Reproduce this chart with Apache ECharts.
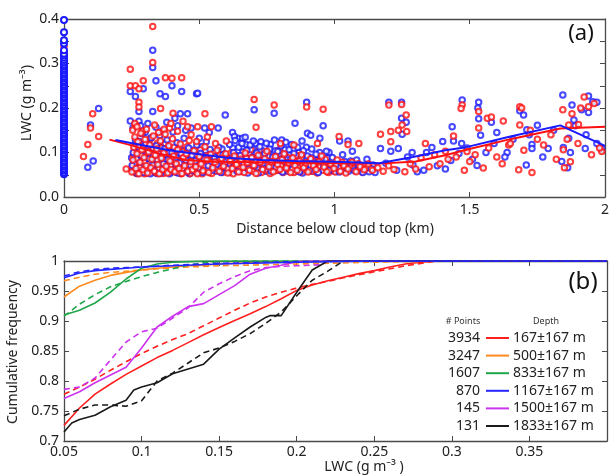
<!DOCTYPE html>
<html><head><meta charset="utf-8">
<script src="https://cdn.jsdelivr.net/npm/echarts@6/dist/echarts.min.js"></script>
<style>html,body{margin:0;padding:0;background:#fff}#c{width:612px;height:475px}</style>
</head><body><div id="c"></div>
<script>
// ---------- Panel (a) data: LWC (g m^-3) vs distance below cloud top (km) ----------
const zeroColBlue = [0.051,0.055,0.06,0.064,0.069,0.073,0.078,0.082,0.087,0.091,0.096,0.1,0.105,0.109,0.114,0.118,0.123,0.127,0.132,0.136,0.141,0.145,0.15,0.154,0.159,0.163,0.168,0.172,0.177,0.181,0.186,0.19,0.195,0.199,0.204,0.208,0.213,0.217,0.222,0.226,0.231,0.235,0.24,0.244,0.249,0.253,0.258,0.262,0.267,0.271,0.276,0.28,0.285,0.289,0.294,0.298,0.303,0.308,0.313,0.318,0.322,0.33,0.345,0.352,0.37,0.398];
const zeroColRed = [0.302,0.313,0.324,0.338];

const redPoints = [
[0.072,0.091],[0.088,0.118],[0.098,0.155],[0.106,0.187],[0.128,0.136],[0.23,0.063],
[0.245,0.287],[0.245,0.25],[0.264,0.25],[0.277,0.243],[0.293,0.261],[0.328,0.383],[0.328,0.302],[0.357,0.199],[0.375,0.268],[0.399,0.267],[0.435,0.268],[0.277,0.213],[0.277,0.202],[0.264,0.162],[0.39,0.155],[0.403,0.188],[0.457,0.158],
[0.521,0.187],[0.703,0.219],[0.777,0.207],[0.71,0.157],[0.494,0.158],[0.545,0.158],[0.6,0.126],[0.8,0.12],[0.85,0.117],[0.897,0.202],[0.958,0.197],[0.937,0.12],
[1.017,0.136],[1.05,0.118],[1.09,0.12],[1.17,0.141],[1.201,0.207],[1.208,0.147],[1.208,0.124],[1.236,0.15],[1.248,0.208],[1.25,0.162],[1.265,0.184],[1.267,0.147],[1.336,0.12],[1.41,0.103],[1.44,0.137],[1.472,0.207],[1.468,0.199],
[1.49,0.102],[1.533,0.192],[1.533,0.155],[1.565,0.177],[1.58,0.18],[1.624,0.171],[1.644,0.117],[1.685,0.203],[1.692,0.2],[1.685,0.162],[1.681,0.061],[1.724,0.15],[1.73,0.055],[1.773,0.117],[1.844,0.196],[1.866,0.162],[1.846,0.106],[1.872,0.079],[1.85,0.066],[1.878,0.187],[1.902,0.163],[1.923,0.225],[1.939,0.203],[1.988,0.102],[1.91,0.2],[1.96,0.21],
[0.254,0.15],[0.262,0.165],[0.27,0.158],[0.29,0.148],[0.305,0.152],[0.335,0.162],[0.35,0.145],[0.37,0.152],[0.395,0.165],[0.42,0.148],[0.44,0.17],[0.47,0.14],[0.49,0.125],[0.53,0.135],[0.56,0.12],
[0.251,0.056],[0.255,0.083],[0.258,0.112],[0.262,0.135],[0.266,0.064],[0.27,0.097],[0.273,0.124],[0.277,0.052],[0.281,0.078],[0.284,0.143],[0.288,0.106],[0.292,0.061],[0.296,0.089],[0.3,0.129],[0.304,0.071],[0.309,0.054],[0.313,0.101],[0.317,0.117],[0.321,0.066],[0.325,0.085],[0.33,0.137],[0.334,0.058],[0.338,0.094],[0.343,0.108],[0.347,0.073],[0.352,0.052],[0.356,0.126],[0.36,0.087],[0.365,0.062],[0.369,0.099],[0.374,0.141],[0.378,0.069],[0.383,0.054],[0.387,0.115],[0.392,0.081],[0.396,0.062],[0.401,0.131],[0.405,0.092],[0.41,0.057],[0.415,0.075],[0.42,0.106],[0.425,0.064],[0.43,0.119],[0.436,0.053],[0.441,0.088],[0.446,0.07],[0.452,0.097],[0.458,0.058],[0.463,0.127],[0.469,0.079],[0.475,0.061],[0.481,0.104],[0.487,0.068],[0.493,0.052],[0.5,0.091],[0.507,0.074],[0.514,0.059],[0.521,0.113],[0.528,0.083],[0.535,0.055],[0.542,0.096],[0.55,0.066],[0.558,0.078],[0.566,0.105],[0.574,0.058],[0.582,0.087],[0.59,0.069],[0.598,0.097],[0.606,0.054],[0.614,0.081],[0.622,0.064],[0.63,0.092],[0.638,0.073],[0.646,0.056],[0.654,0.085],[0.662,0.067],[0.67,0.099],[0.678,0.077],[0.686,0.06],[0.694,0.088],[0.702,0.071],[0.71,0.053],[0.718,0.094],[0.726,0.078],[0.734,0.062],[0.742,0.086],[0.75,0.103],[0.758,0.068],[0.766,0.079],[0.774,0.057],[0.782,0.091],[0.79,0.073],[0.798,0.062],[0.806,0.084],[0.814,0.097],[0.822,0.065],[0.83,0.077],[0.838,0.055],[0.846,0.088],[0.854,0.07],[0.862,0.06],[0.87,0.081],[0.878,0.095],[0.886,0.066],[0.894,0.077],[0.902,0.056],[0.912,0.086],[0.922,0.07],[0.932,0.062],[0.942,0.079],[0.952,0.092],[0.962,0.067],[0.972,0.057],[0.985,0.075],[0.998,0.064],[1.01,0.083],[1.022,0.058],[1.035,0.07],[1.05,0.063],[1.065,0.078],[1.08,0.057],[1.095,0.068],[1.11,0.061],[1.125,0.074],[1.14,0.06],[1.16,0.066],[1.18,0.058],[1.2,0.07],[1.22,0.062],[1.26,0.057],[1.28,0.075],[1.3,0.063],[1.32,0.088],[1.35,0.068],[1.37,0.095],[1.39,0.075],[1.42,0.085],[1.45,0.09],[1.48,0.06],[1.5,0.08],[1.52,0.095],[1.55,0.065],[1.57,0.11],[1.6,0.09],[1.62,0.075],[1.65,0.12],[1.7,0.105],[1.75,0.13],[1.8,0.14],[1.82,0.085],[1.86,0.13],[1.9,0.12],[1.95,0.095],[1.98,0.11]
];
const redBandExtra = [
[0.253,0.068],[0.257,0.095],[0.261,0.074],[0.265,0.118],[0.268,0.053],[0.272,0.086],[0.275,0.066],[0.279,0.103],[0.283,0.058],[0.286,0.092],[0.29,0.072],[0.294,0.115],[0.298,0.052],[0.302,0.081],[0.306,0.099],[0.311,0.063],[0.315,0.077],[0.319,0.131],[0.323,0.055],[0.327,0.11],[0.332,0.069],[0.336,0.082],[0.34,0.055],[0.345,0.121],[0.349,0.091],[0.354,0.064],[0.358,0.075],[0.362,0.11],[0.367,0.053],[0.371,0.082],[0.376,0.095],[0.38,0.06],[0.385,0.072],[0.389,0.101],[0.394,0.055],[0.398,0.085],[0.403,0.067],[0.407,0.112],[0.412,0.082],[0.417,0.058],[0.422,0.093],[0.427,0.071],[0.432,0.052],[0.438,0.102],[0.443,0.062],[0.449,0.08],[0.455,0.113],[0.46,0.067],[0.466,0.053],[0.472,0.09],[0.478,0.074],[0.484,0.058],[0.49,0.083],[0.497,0.064],[0.504,0.106],[0.511,0.052],[0.518,0.07],[0.525,0.092],[0.532,0.062],[0.539,0.078],[0.546,0.053],[0.554,0.088],[0.562,0.064],[0.57,0.076],[0.578,0.095],[0.586,0.055],[0.594,0.072],[0.602,0.085],[0.61,0.061],[0.618,0.099],[0.626,0.052],[0.634,0.078],[0.642,0.09],[0.65,0.063],[0.658,0.074],[0.666,0.055],[0.674,0.087],[0.682,0.066],[0.69,0.106],[0.698,0.058],[0.706,0.082],[0.714,0.066],[0.722,0.105],[0.73,0.055],[0.738,0.072],[0.746,0.061],[0.754,0.092],[0.762,0.053],[0.77,0.068],[0.778,0.083],[0.786,0.06],[0.794,0.104],[0.802,0.071],[0.81,0.055],[0.818,0.078],[0.826,0.089],[0.834,0.063],[0.842,0.072],[0.85,0.055],[0.858,0.094],[0.866,0.069],[0.874,0.056],[0.882,0.073],[0.89,0.086],[0.898,0.062],[0.906,0.07],[0.916,0.058],[0.926,0.081],[0.936,0.054],[0.946,0.068],[0.956,0.06],[0.966,0.085],[0.978,0.055],[0.99,0.07],[1.004,0.056],[1.016,0.066],[1.028,0.078],[1.042,0.054],[1.058,0.068],[1.072,0.063],[1.088,0.075],[1.102,0.056],[1.118,0.066]
];

const bluePoints = [
[0.088,0.067],[0.098,0.162],[0.108,0.081],[0.128,0.199],[0.245,0.237],[0.264,0.226],[0.293,0.243],[0.328,0.33],[0.328,0.291],[0.34,0.261],[0.399,0.25],[0.435,0.237],[0.355,0.232],[0.375,0.226],[0.49,0.232],[0.277,0.192],[0.328,0.192],[0.245,0.171],[0.277,0.17],[0.31,0.165],[0.365,0.149],[0.41,0.177],[0.43,0.187],[0.457,0.187],[0.47,0.155],
[0.494,0.233],[0.703,0.196],[0.777,0.188],[0.596,0.184],[0.897,0.213],[0.854,0.166],[0.958,0.16],[0.52,0.155],[0.57,0.155],[0.537,0.145],[0.5,0.132],[0.623,0.145],[0.63,0.136],[0.66,0.132],[0.728,0.124],[0.9,0.143],[0.912,0.139],[0.946,0.132],[0.88,0.126],
[1.019,0.126],[1.05,0.126],[1.066,0.103],[0.98,0.1],[1.17,0.109],[1.201,0.213],[1.208,0.103],[1.236,0.109],[1.248,0.213],[1.248,0.177],[1.265,0.168],[1.25,0.141],[1.287,0.1],[1.306,0.057],[1.36,0.111],[1.41,0.063],[1.435,0.158],[1.44,0.126],[1.472,0.218],
[1.527,0.071],[1.533,0.213],[1.533,0.176],[1.54,0.139],[1.58,0.168],[1.638,0.1],[1.685,0.194],[1.699,0.184],[1.711,0.151],[1.709,0.072],[1.73,0.118],[1.73,0.109],[1.75,0.161],[1.79,0.109],[1.844,0.229],[1.846,0.111],[1.862,0.066],[1.866,0.132],[1.872,0.1],[1.878,0.207],[1.885,0.173],[1.914,0.196],[1.927,0.109],[1.939,0.227],[1.939,0.19],[1.955,0.214],[1.97,0.213],[1.988,0.109],[1.53,0.2],[1.6,0.145],[1.47,0.12],
[0.255,0.155],[0.283,0.16],[0.3,0.145],[0.34,0.157],[0.38,0.168],[0.42,0.16],[0.45,0.15],
[0.252,0.071],[0.256,0.1],[0.26,0.058],[0.264,0.128],[0.268,0.086],[0.272,0.053],[0.276,0.113],[0.28,0.067],[0.285,0.094],[0.289,0.142],[0.293,0.055],[0.297,0.079],[0.302,0.121],[0.306,0.063],[0.31,0.104],[0.315,0.086],[0.319,0.052],[0.323,0.133],[0.328,0.072],[0.332,0.096],[0.336,0.059],[0.341,0.115],[0.345,0.083],[0.35,0.065],[0.354,0.138],[0.358,0.054],[0.363,0.091],[0.367,0.075],[0.372,0.108],[0.376,0.06],[0.381,0.128],[0.385,0.084],[0.39,0.052],[0.394,0.07],[0.399,0.1],[0.403,0.146],[0.408,0.061],[0.413,0.089],[0.418,0.122],[0.423,0.054],[0.428,0.077],[0.433,0.098],[0.439,0.064],[0.444,0.132],[0.45,0.083],[0.456,0.056],[0.461,0.11],[0.467,0.072],[0.473,0.094],[0.479,0.059],[0.485,0.081],[0.491,0.117],[0.498,0.066],[0.505,0.098],[0.512,0.055],[0.519,0.085],[0.526,0.124],[0.533,0.07],[0.54,0.107],[0.548,0.06],[0.556,0.09],[0.564,0.073],[0.572,0.112],[0.58,0.055],[0.588,0.095],[0.596,0.078],[0.604,0.064],[0.612,0.118],[0.62,0.085],[0.627,0.1],[0.633,0.127],[0.64,0.058],[0.646,0.112],[0.652,0.093],[0.658,0.12],[0.664,0.074],[0.67,0.134],[0.676,0.105],[0.682,0.063],[0.688,0.117],[0.694,0.089],[0.7,0.126],[0.706,0.07],[0.712,0.099],[0.718,0.054],[0.724,0.113],[0.73,0.082],[0.736,0.064],[0.742,0.097],[0.748,0.121],[0.754,0.073],[0.76,0.108],[0.766,0.058],[0.772,0.09],[0.778,0.128],[0.784,0.067],[0.79,0.102],[0.796,0.082],[0.802,0.115],[0.808,0.056],[0.814,0.094],[0.82,0.123],[0.826,0.071],[0.832,0.106],[0.838,0.085],[0.844,0.063],[0.85,0.098],[0.857,0.076],[0.864,0.112],[0.871,0.057],[0.878,0.088],[0.885,0.104],[0.892,0.069],[0.9,0.092],[0.908,0.06],[0.916,0.108],[0.924,0.078],[0.932,0.096],[0.94,0.055],[0.95,0.085],[0.96,0.07],[0.97,0.103],[0.98,0.06],[0.992,0.089],[1.005,0.072],[1.018,0.056],[1.03,0.095],[1.045,0.066],[1.06,0.081],[1.075,0.059],[1.09,0.072],[1.105,0.055],[1.12,0.085],[1.135,0.064],[1.15,0.055],[1.19,0.076],[1.23,0.06],[1.27,0.09],[1.29,0.072],[1.33,0.06],[1.34,0.1],[1.38,0.07],[1.4,0.125],[1.43,0.082],[1.46,0.098],[1.49,0.11],[1.51,0.085],[1.56,0.1],[1.59,0.12],[1.63,0.09],[1.66,0.13],[1.72,0.14],[1.77,0.09],[1.81,0.15],[1.84,0.08],[1.89,0.16],[1.93,0.14],[1.97,0.12]
];
const blueBandExtra = [
[0.25,0.088],[0.254,0.062],[0.258,0.079],[0.262,0.108],[0.266,0.056],[0.27,0.071],[0.274,0.098],[0.278,0.125],[0.282,0.083],[0.287,0.06],[0.291,0.106],[0.295,0.069],[0.299,0.092],[0.304,0.054],[0.308,0.083],[0.313,0.12],[0.317,0.068],[0.321,0.097],[0.326,0.058],[0.33,0.085],[0.334,0.112],[0.339,0.074],[0.343,0.053],[0.348,0.098],[0.352,0.078],[0.356,0.112],[0.361,0.066],[0.365,0.085],[0.37,0.056],[0.374,0.12],[0.379,0.078],[0.383,0.095],[0.388,0.065],[0.392,0.11],[0.397,0.058],[0.401,0.082],[0.406,0.098],[0.411,0.07],[0.416,0.055],[0.421,0.084],[0.426,0.112],[0.431,0.062],[0.436,0.088],[0.442,0.072],[0.447,0.105],[0.453,0.062],[0.459,0.094],[0.464,0.052],[0.47,0.08],[0.476,0.105],[0.482,0.066],[0.488,0.093],[0.495,0.055],[0.502,0.078],[0.509,0.113],[0.516,0.067],[0.523,0.093],[0.53,0.058],[0.537,0.083],[0.544,0.07],[0.552,0.1],[0.56,0.058],[0.568,0.086],[0.576,0.068],[0.584,0.108],[0.592,0.062],[0.6,0.09],[0.608,0.073],[0.616,0.055],[0.624,0.11],[0.63,0.068],[0.636,0.093],[0.643,0.132],[0.649,0.077],[0.655,0.058],[0.661,0.101],[0.667,0.085],[0.673,0.118],[0.679,0.054],[0.685,0.097],[0.691,0.072],[0.697,0.108],[0.703,0.087],[0.709,0.12],[0.715,0.076],[0.721,0.06],[0.727,0.093],[0.733,0.104],[0.739,0.075],[0.745,0.058],[0.751,0.085],[0.757,0.097],[0.763,0.118],[0.769,0.074],[0.775,0.062],[0.781,0.104],[0.787,0.084],[0.793,0.06],[0.799,0.097],[0.805,0.128],[0.811,0.072],[0.817,0.107],[0.823,0.086],[0.829,0.058],[0.835,0.095],[0.841,0.118],[0.847,0.074],[0.854,0.058],[0.861,0.09],[0.868,0.1],[0.875,0.068],[0.882,0.054],[0.889,0.082],[0.896,0.112],[0.904,0.074],[0.912,0.088],[0.92,0.058],[0.928,0.068],[0.936,0.082],[0.945,0.1],[0.955,0.063],[0.965,0.078],[0.975,0.088],[0.986,0.07],[0.998,0.058],[1.012,0.074],[1.025,0.062],[1.038,0.08],[1.052,0.058],[1.068,0.068],[1.082,0.083],[1.098,0.062],[1.112,0.07],[1.128,0.057],[1.142,0.072]
];

const redFit  = [[0.168,0.129],[0.25,0.116],[0.35,0.098],[0.45,0.083],[0.55,0.079],[0.7,0.078],[0.85,0.077],[1.0,0.076],[1.17,0.075],[1.3,0.08],[1.41,0.094],[1.48,0.105],[1.65,0.13],[1.835,0.154],[2.0,0.158]];
const blueFit = [[0.19,0.128],[0.3,0.115],[0.4,0.104],[0.5,0.096],[0.6,0.088],[0.73,0.083],[0.85,0.081],[1.0,0.079],[1.165,0.076],[1.29,0.09],[1.41,0.105],[1.48,0.111],[1.65,0.136],[1.835,0.161],[2.0,0.115]];

// ---------- Panel (b) data: cumulative frequency vs LWC ----------
const red167   = [[0.05,0.726],[0.06,0.755],[0.07,0.778],[0.08,0.795],[0.09,0.811],[0.10,0.825],[0.11,0.839],[0.12,0.851],[0.13,0.864],[0.14,0.877],[0.15,0.889],[0.16,0.901],[0.17,0.912],[0.18,0.924],[0.19,0.937],[0.20,0.951],[0.21,0.96],[0.22,0.967],[0.23,0.973],[0.24,0.979],[0.25,0.984],[0.26,0.99],[0.27,0.995],[0.28,0.998],[0.29,1.0],[0.4,1.0]];
const red167d  = [[0.05,0.778],[0.06,0.79],[0.07,0.803],[0.08,0.818],[0.09,0.832],[0.10,0.846],[0.11,0.858],[0.12,0.869],[0.13,0.879],[0.14,0.892],[0.15,0.905],[0.16,0.918],[0.17,0.93],[0.18,0.94],[0.19,0.948],[0.20,0.955],[0.21,0.961],[0.22,0.966],[0.23,0.972],[0.24,0.977],[0.25,0.982],[0.26,0.987],[0.27,0.992],[0.28,0.996],[0.29,1.0],[0.4,1.0]];
const org500   = [[0.05,0.94],[0.06,0.958],[0.07,0.968],[0.08,0.976],[0.09,0.981],[0.10,0.985],[0.11,0.988],[0.12,0.99],[0.13,0.992],[0.14,0.993],[0.15,0.995],[0.17,0.997],[0.2,0.999],[0.25,1.0],[0.4,1.0]];
const org500d  = [[0.05,0.967],[0.06,0.973],[0.07,0.978],[0.08,0.981],[0.09,0.983],[0.10,0.985],[0.11,0.987],[0.13,0.99],[0.15,0.992],[0.2,0.995],[0.25,0.998],[0.3,1.0],[0.4,1.0]];
const grn833   = [[0.05,0.91],[0.06,0.918],[0.07,0.93],[0.08,0.948],[0.09,0.97],[0.10,0.988],[0.11,0.995],[0.12,0.998],[0.13,0.999],[0.14,1.0],[0.4,1.0]];
const grn833d  = [[0.05,0.908],[0.06,0.928],[0.07,0.944],[0.08,0.957],[0.09,0.966],[0.10,0.974],[0.11,0.981],[0.12,0.987],[0.13,0.993],[0.14,0.997],[0.15,0.999],[0.16,1.0],[0.4,1.0]];
const blu1167  = [[0.05,0.972],[0.06,0.98],[0.07,0.984],[0.08,0.986],[0.09,0.988],[0.10,0.99],[0.12,0.992],[0.15,0.995],[0.2,0.998],[0.25,1.0],[0.4,1.0]];
const blu1167d = [[0.05,0.975],[0.06,0.982],[0.07,0.986],[0.08,0.988],[0.09,0.989],[0.10,0.99],[0.12,0.993],[0.15,0.996],[0.2,0.999],[0.23,1.0],[0.4,1.0]];
const mag1500  = [[0.05,0.771],[0.06,0.782],[0.07,0.797],[0.08,0.81],[0.09,0.823],[0.10,0.855],[0.11,0.89],[0.12,0.908],[0.13,0.924],[0.14,0.929],[0.15,0.944],[0.16,0.959],[0.17,0.978],[0.18,0.988],[0.19,0.993],[0.20,0.999],[0.21,1.0],[0.4,1.0]];
const mag1500d = [[0.05,0.786],[0.06,0.79],[0.07,0.805],[0.08,0.835],[0.09,0.865],[0.10,0.882],[0.11,0.888],[0.12,0.905],[0.13,0.922],[0.14,0.948],[0.15,0.962],[0.16,0.974],[0.17,0.984],[0.18,0.989],[0.19,0.991],[0.20,0.992],[0.21,0.993],[0.215,0.994],[0.22,1.0],[0.4,1.0]];
const blk1833  = [[0.05,0.715],[0.055,0.73],[0.06,0.736],[0.07,0.743],[0.08,0.757],[0.09,0.768],[0.095,0.785],[0.10,0.79],[0.11,0.797],[0.12,0.812],[0.13,0.82],[0.14,0.828],[0.15,0.853],[0.16,0.872],[0.17,0.89],[0.18,0.906],[0.183,0.909],[0.19,0.909],[0.20,0.948],[0.21,0.985],[0.22,1.0],[0.4,1.0]];
const blk1833d = [[0.05,0.742],[0.06,0.753],[0.07,0.76],[0.08,0.76],[0.09,0.758],[0.10,0.767],[0.11,0.8],[0.12,0.813],[0.13,0.83],[0.14,0.847],[0.15,0.855],[0.16,0.866],[0.17,0.879],[0.18,0.896],[0.19,0.915],[0.20,0.942],[0.21,0.968],[0.22,0.983],[0.23,1.0],[0.4,1.0]];

const legendCounts = ['3934','3247','1607','870','145','131'];
const legendDepths = ['167±167 m','500±167 m','833±167 m','1167±167 m','1500±167 m','1833±167 m'];
const curveColors  = ['#ff1f1f','#ff8a1e','#1fa64a','#2626ff','#cc33ee','#1a1a1a'];

// ---------- Build chart ----------
const FONT = 'Noto Sans';
const AX = '#4a4a4a';
const chart = echarts.init(document.getElementById('c'), null, {renderer:'canvas'});

function axisBase(extra){
  return Object.assign({
    type:'value',
    axisLine:{show:true, onZero:false, lineStyle:{color:AX, width:1.3}},
    axisTick:{show:true, inside:true, length:5, lineStyle:{color:AX, width:1}},
    splitLine:{show:false},
    axisLabel:{show:true, color:'#222', fontFamily:FONT, fontSize:14}
  }, extra);
}
const tenths = v => (Math.abs(v*10 - Math.round(v*10)) < 1e-6) ? v.toFixed(1) : '';
const plain2 = v => String(+v.toFixed(2));

const curves = [
  [red167, red167d],[org500, org500d],[grn833, grn833d],[blu1167, blu1167d],[mag1500, mag1500d],[blk1833, blk1833d]
];
const curveSeries = [];
curves.forEach((pair, i) => {
  pair.forEach((d, j) => {
    curveSeries.push({
      type:'line', xAxisIndex:2, yAxisIndex:2, data:d, showSymbol:false, symbol:'none',
      lineStyle:{color:curveColors[i], width:1.6, type: j ? [6,4] : 'solid'},
      silent:true, z: 3 + (i===3 ? 1 : 0), clip:true
    });
  });
});

const graphics = [
  {type:'text', x:27, y:103, rotation:Math.PI/2, style:{text:'LWC (g m⁻³)', fill:'#222', font:'14px "Noto Sans"', align:'center', verticalAlign:'middle'}},
  {type:'text', x:335, y:229, style:{text:'Distance below cloud top (km)', fill:'#222', font:'14px "Noto Sans"', align:'center', verticalAlign:'middle'}},
  {type:'text', x:13, y:352, rotation:Math.PI/2, style:{text:'Cumulative frequency', fill:'#222', font:'14px "Noto Sans"', align:'center', verticalAlign:'middle'}},
  {type:'text', x:364, y:467, style:{text:'LWC (g m⁻³ )', fill:'#222', font:'14px "Noto Sans"', align:'center', verticalAlign:'middle'}},
  {type:'text', x:581, y:34, style:{text:'(a)', fill:'#111', font:'22px "Noto Sans"', align:'center', verticalAlign:'middle'}},
  {type:'text', x:583, y:282, style:{text:'(b)', fill:'#111', font:'24px "Noto Sans"', align:'center', verticalAlign:'middle'}},
  {type:'text', x:463, y:321, style:{text:'# Points', fill:'#333', font:'9px "Noto Sans"', align:'center', verticalAlign:'middle'}},
  {type:'text', x:546, y:321, style:{text:'Depth', fill:'#333', font:'9px "Noto Sans"', align:'center', verticalAlign:'middle'}}
];
legendCounts.forEach((c, i) => {
  const y = 338 + i*17.6;
  graphics.push({type:'text', x:480, y:y, style:{text:c, fill:'#222', font:'14px "Noto Sans"', align:'right', verticalAlign:'middle'}});
  graphics.push({type:'line', shape:{x1:486, y1:y, x2:509, y2:y}, style:{stroke:curveColors[i], lineWidth:2}});
  graphics.push({type:'text', x:513, y:y, style:{text:legendDepths[i], fill:'#222', font:'14px "Noto Sans"', align:'left', verticalAlign:'middle'}});
});

const scatterStyle = c => ({color:c, borderColor:c, borderWidth:1, opacity:0.8});
const SYM = 5.5;
const RED = '#ff1010', BLUE = '#1a1aff';
const sc = (data, c, extra) => Object.assign({type:'scatter', xAxisIndex:0, yAxisIndex:0, symbol:'emptyCircle', symbolSize:SYM, data:data, itemStyle:scatterStyle(c), silent:true}, extra || {});

const option = {
  animation:false,
  backgroundColor:'#fff',
  grid:[
    {left:64, right:6, top:19, height:178},
    {left:64, right:5, top:261, height:180}
  ],
  xAxis:[
    axisBase({gridIndex:0, min:0, max:2, interval:0.5, position:'bottom', axisLabel:{color:'#222', fontFamily:FONT, fontSize:14, margin:6}}),
    axisBase({gridIndex:0, min:0, max:2, interval:0.5, position:'top', axisLabel:{show:false}}),
    axisBase({gridIndex:1, min:0.05, max:0.4, interval:0.05, position:'bottom', axisLabel:{color:'#222', fontFamily:FONT, fontSize:14, margin:4, formatter: v => v > 0.39 ? '' : plain2(v)}}),
    axisBase({gridIndex:1, min:0.05, max:0.4, interval:0.05, position:'top', axisLabel:{show:false}})
  ],
  yAxis:[
    axisBase({gridIndex:0, min:0, max:0.4, interval:0.05, position:'left', axisLabel:{color:'#222', fontFamily:FONT, fontSize:14, margin:5, formatter:tenths}}),
    axisBase({gridIndex:0, min:0, max:0.4, interval:0.05, position:'right', axisLabel:{show:false}}),
    axisBase({gridIndex:1, min:0.7, max:1, interval:0.05, position:'left', axisLabel:{color:'#222', fontFamily:FONT, fontSize:14, margin:5, formatter:plain2}}),
    axisBase({gridIndex:1, min:0.7, max:1, interval:0.05, position:'right', axisLabel:{show:false}})
  ],
  graphic: graphics,
  series:[
    sc(blueBandExtra, BLUE),
    sc(redBandExtra, RED),
    sc(bluePoints, BLUE),
    sc(redPoints, RED),
    sc(zeroColRed.map(v=>[0,v]), RED),
    sc(zeroColBlue.map(v=>[0,v]), BLUE, {symbolSize:SYM+0.5, clip:false, itemStyle:Object.assign(scatterStyle(BLUE),{opacity:1, borderWidth:1.5})}),
    {type:'line', xAxisIndex:0, yAxisIndex:0, data:redFit, showSymbol:false, symbol:'none', lineStyle:{color:RED, width:2}, z:5, silent:true},
    {type:'line', xAxisIndex:0, yAxisIndex:0, data:blueFit, showSymbol:false, symbol:'none', lineStyle:{color:BLUE, width:2}, z:5, silent:true}
  ].concat(curveSeries)
};
chart.setOption(option);
</script></body></html>
